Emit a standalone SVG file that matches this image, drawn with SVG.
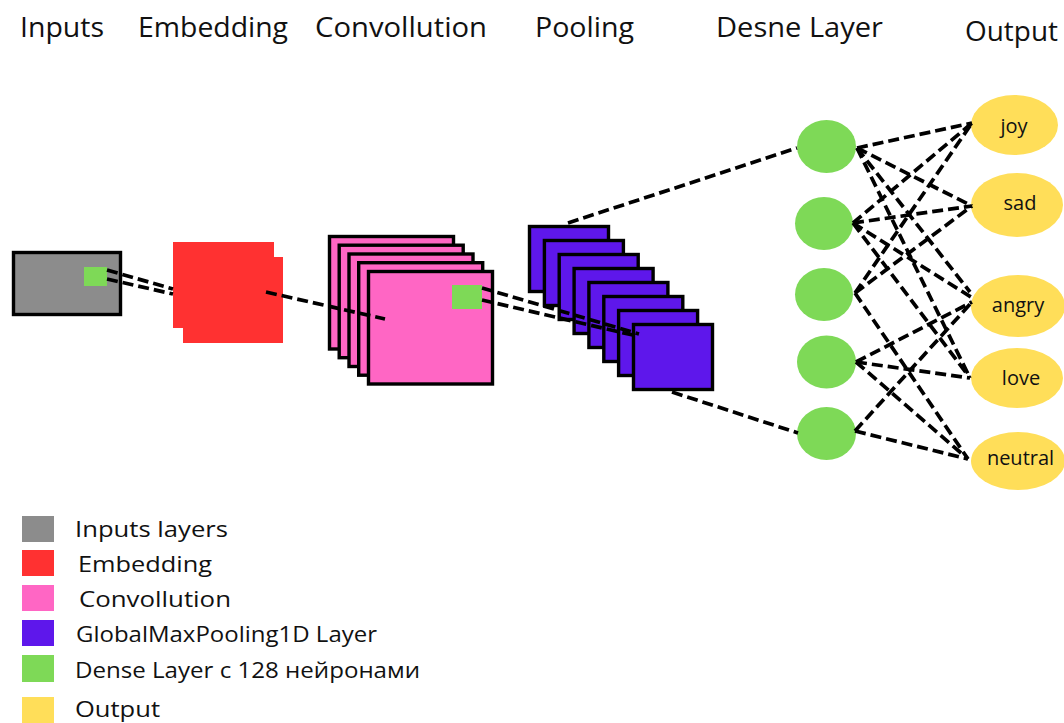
<svg xmlns="http://www.w3.org/2000/svg" width="1064" height="723" viewBox="0 0 1064 723">
<style>
.hdr{font-family:"Open Sans","Noto Sans",sans-serif;font-size:27px;fill:#111}
.leg{font-family:"Open Sans","Noto Sans",sans-serif;font-size:21px;fill:#111}
.out{font-family:"Open Sans","Noto Sans",sans-serif;font-size:20px;fill:#111;text-anchor:middle}
.box{stroke:#000;stroke-width:3.4}
.conv{fill:#ff66c4}
.pool{fill:#5e17eb}
.dense{fill:#7ed957}
.outn{fill:#ffde59}
.ln{stroke:#000;stroke-width:3.7;stroke-dasharray:11 5;fill:none}
</style>
<rect width="1064" height="723" fill="#fff"/>
<g id="headers">
<text class="hdr" x="20" y="37" textLength="84" lengthAdjust="spacingAndGlyphs">Inputs</text>
<text class="hdr" x="138" y="37" textLength="150" lengthAdjust="spacingAndGlyphs">Embedding</text>
<text class="hdr" x="315" y="37" textLength="172" lengthAdjust="spacingAndGlyphs">Convollution</text>
<text class="hdr" x="535" y="37" textLength="99" lengthAdjust="spacingAndGlyphs">Pooling</text>
<text class="hdr" x="716" y="37" textLength="167" lengthAdjust="spacingAndGlyphs">Desne Layer</text>
<text class="hdr" x="965" y="41" textLength="93" lengthAdjust="spacingAndGlyphs">Output</text>
</g>
<g id="input">
<rect class="box" x="13.5" y="252.5" width="107" height="62" fill="#8c8c8c"/>
<rect x="84" y="267" width="23" height="19" fill="#7ed957"/>
</g>
<g id="embedding">
<rect x="173" y="242" width="101" height="86" fill="#ff3131"/>
<rect x="183" y="257" width="100" height="86" fill="#ff3131"/>
</g>
<g id="convolution">
<rect class="box conv" x="329.5" y="236.5" width="124" height="112.5"/>
<rect class="box conv" x="339.2" y="245.2" width="124" height="112.5"/>
<rect class="box conv" x="349" y="254" width="124" height="112.5"/>
<rect class="box conv" x="358.7" y="262.7" width="124" height="112.5"/>
<rect class="box conv" x="368.5" y="271.5" width="124" height="112.5"/>
<rect x="452" y="285" width="30" height="24" fill="#7ed957"/>
</g>
<g id="pooling">
<rect class="box pool" x="529.5" y="226.5" width="79" height="65"/>
<rect class="box pool" x="544.4" y="240.5" width="79" height="65"/>
<rect class="box pool" x="559.2" y="254.5" width="79" height="65"/>
<rect class="box pool" x="574.1" y="268.5" width="79" height="65"/>
<rect class="box pool" x="588.9" y="282.5" width="79" height="65"/>
<rect class="box pool" x="603.8" y="296.5" width="79" height="65"/>
<rect class="box pool" x="618.6" y="310.5" width="79" height="65"/>
<rect class="box pool" x="633.5" y="324.5" width="79" height="65"/>
</g>
<g id="dense1"><ellipse class="dense" cx="826.5" cy="146.5" rx="29.5" ry="26.5"/></g>
<g id="dense2"><ellipse class="dense" cx="824" cy="223.5" rx="29" ry="26.5"/></g>
<g id="dense3"><ellipse class="dense" cx="824" cy="294.5" rx="29" ry="26.5"/></g>
<g id="dense4"><ellipse class="dense" cx="826.5" cy="362" rx="29.5" ry="26.5"/></g>
<g id="dense5"><ellipse class="dense" cx="826.5" cy="433.5" rx="29.5" ry="26.5"/></g>
<g id="out-joy"><ellipse class="outn" cx="1014.5" cy="125" rx="43.5" ry="30"/><text class="out" x="1014" y="133">joy</text></g>
<g id="out-sad"><ellipse class="outn" cx="1017" cy="205" rx="46" ry="32"/><text class="out" x="1020" y="210">sad</text></g>
<g id="out-angry"><ellipse class="outn" cx="1018" cy="306" rx="47" ry="31"/><text class="out" x="1018" y="312">angry</text></g>
<g id="out-love"><ellipse class="outn" cx="1017" cy="378" rx="46" ry="30"/><text class="out" x="1021" y="385">love</text></g>
<g id="out-neutral"><ellipse class="outn" cx="1018" cy="461" rx="47" ry="29"/><text class="out" x="1020.5" y="465">neutral</text></g>
<g id="connectors">
<line class="ln" x1="107" y1="270" x2="173" y2="289"/>
<line class="ln" x1="107" y1="279" x2="173" y2="294"/>
<line class="ln" x1="266" y1="292" x2="385" y2="319"/>
<line class="ln" x1="482" y1="288" x2="639" y2="334"/>
<line class="ln" x1="482" y1="300" x2="637" y2="336"/>
<line class="ln" x1="568" y1="223" x2="797" y2="148"/>
<line class="ln" x1="672" y1="392" x2="798" y2="433"/>
<line class="ln" x1="857" y1="148" x2="972" y2="123"/>
<line class="ln" x1="857" y1="148" x2="972" y2="206"/>
<line class="ln" x1="857" y1="148" x2="970" y2="292"/>
<line class="ln" x1="857" y1="148" x2="970" y2="378"/>
<line class="ln" x1="853" y1="223" x2="972" y2="123"/>
<line class="ln" x1="853" y1="223" x2="972" y2="206"/>
<line class="ln" x1="853" y1="223" x2="971" y2="297"/>
<line class="ln" x1="853" y1="223" x2="970" y2="378"/>
<line class="ln" x1="855" y1="293" x2="972" y2="123"/>
<line class="ln" x1="855" y1="293" x2="972" y2="206"/>
<line class="ln" x1="855" y1="293" x2="968" y2="459"/>
<line class="ln" x1="856" y1="362" x2="972" y2="302"/>
<line class="ln" x1="856" y1="362" x2="970" y2="378"/>
<line class="ln" x1="856" y1="362" x2="968" y2="459"/>
<line class="ln" x1="855" y1="431" x2="972" y2="302"/>
<line class="ln" x1="855" y1="431" x2="968" y2="459"/>
</g>
<g id="legend">
<rect x="22" y="516" width="32" height="26" fill="#8c8c8c"/>
<rect x="22" y="550" width="32" height="26" fill="#ff3131"/>
<rect x="22" y="585" width="32" height="26" fill="#ff66c4"/>
<rect x="22" y="620" width="32" height="26" fill="#5e17eb"/>
<rect x="22" y="655" width="32" height="27" fill="#7ed957"/>
<rect x="22" y="697" width="32" height="26" fill="#ffde59"/>
<text class="leg" x="75" y="537" textLength="153" lengthAdjust="spacingAndGlyphs">Inputs layers</text>
<text class="leg" x="78" y="572" textLength="134" lengthAdjust="spacingAndGlyphs">Embedding</text>
<text class="leg" x="79" y="607" textLength="152" lengthAdjust="spacingAndGlyphs">Convollution</text>
<text class="leg" x="76" y="642" textLength="301" lengthAdjust="spacingAndGlyphs">GlobalMaxPooling1D Layer</text>
<text class="leg" x="75" y="678" textLength="345" lengthAdjust="spacingAndGlyphs">Dense Layer с 128 нейронами</text>
<text class="leg" x="75" y="717" textLength="85" lengthAdjust="spacingAndGlyphs">Output</text>
</g>
</svg>
